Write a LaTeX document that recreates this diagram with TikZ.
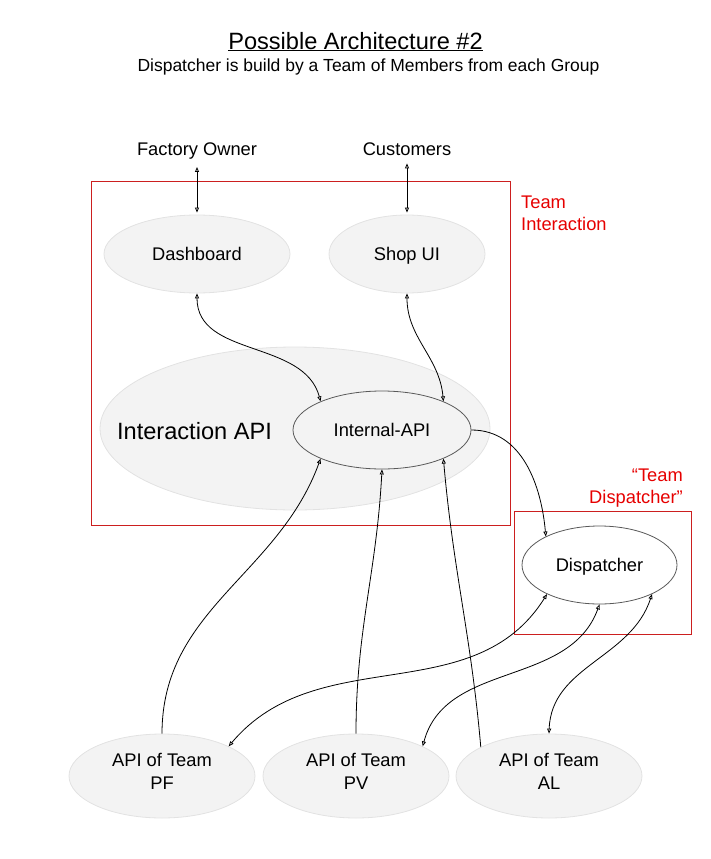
\documentclass[tikz,border=0pt]{standalone}
\usepackage{fontspec}
\setmainfont{Liberation Sans}
\usetikzlibrary{shapes.geometric,arrows.meta}
\definecolor{ellfill}{HTML}{F3F3F3}
\definecolor{ellline}{HTML}{E2E2E2}
\definecolor{darkline}{HTML}{595959}
\definecolor{teamred}{HTML}{CC1F1F}
\definecolor{labred}{HTML}{E60000}
\begin{document}
\begin{tikzpicture}[x=1pt,y=-1pt,
  lbl/.style={font=\fontsize{18.3}{22}\selectfont, inner sep=0pt},
  soft/.style={ellipse, fill=ellfill, draw=ellline, line width=0.8pt, inner sep=0pt, lbl, align=center},
  hard/.style={ellipse, fill=ellfill, draw=darkline, line width=0.8pt, inner sep=0pt, lbl, align=center},
  oneline/.style={text height=13.1pt, text depth=0pt},
  twoline/.style={font=\fontsize{18.3}{23}\selectfont, text depth=9pt},
  redbox/.style={draw=teamred, line width=0.9pt, inner sep=0pt},
  redlbl/.style={lbl, text=labred},
  conn/.style={line width=0.8pt, black},
  >={Triangle[open,length=5pt,width=4pt]}
]
\useasboundingbox (0,0) rectangle (711,859);

% titles
\node[font=\fontsize{23.6}{28}\selectfont, anchor=base, inner sep=0pt] (title) at (355.5,49) {\underline{Possible Architecture \#2}};
\node[font=\fontsize{17.5}{21}\selectfont, anchor=base, inner sep=0pt] (sub) at (368.5,71) {Dispatcher is build by a Team of Members from each Group};

% red boxes
\node[redbox, minimum width=419pt, minimum height=344pt] (tibox) at (300.5,353) {};
\node[redbox, minimum width=177pt, minimum height=123pt] (tdbox) at (602.5,572.5) {};
\node[redlbl, anchor=north west, align=left] (tilbl) at (521,196) {Team\\Interaction};
\node[redlbl, anchor=north east, align=right] (tdlbl) at (683,468.5) {“Team\\Dispatcher”};

% actors
\node[lbl, anchor=base] (fo) at (197,155) {Factory Owner};
\node[lbl, anchor=base] (cu) at (407,155) {Customers};

% ellipses
\node[soft, oneline, minimum width=186pt, minimum height=78pt] (dash) at (197,254) {Dashboard};
\node[soft, oneline, minimum width=156pt, minimum height=78pt] (shop) at (407,254) {Shop UI};
\node[soft, minimum width=390pt, minimum height=163pt] (iapi) at (295,428.5) {};
\node[lbl, font=\fontsize{23.6}{28}\selectfont] (iapitext) at (194.5,431) {Interaction API};
\node[hard, oneline, minimum width=178pt, minimum height=78pt] (int) at (382,430) {Internal-API};
\node[hard, oneline, fill=white, minimum width=155pt, minimum height=78pt] (disp) at (599.5,565) {Dispatcher};

\node[soft, twoline, minimum width=186pt, minimum height=84pt] (pf) at (162,776) {API of Team\\PF};
\node[soft, twoline, minimum width=186pt, minimum height=84pt] (pv) at (356,776) {API of Team\\PV};
\node[soft, twoline, minimum width=186pt, minimum height=84pt] (al) at (549,776) {API of Team\\AL};

% connectors
\draw[conn,<->, shorten <=8pt, shorten >=2pt] (fo.south) -- (fo.south |- dash.north);
\draw[conn,<->, shorten <=8pt, shorten >=2pt] (cu.south) -- (cu.south |- shop.north);
\draw[conn,<->] (dash.south) to[out=-90,in=105] (int.155);
\draw[conn,<->] (shop.south) to[out=-90,in=95] (int.25);
\draw[conn,->] (int.east) to[out=0,in=95] (disp.152);
\draw[conn,->] (pf.north) to[out=90,in=-110] (int.205);
\draw[conn,->] (pv.north) to[out=90,in=-93] (int.south);
\draw[conn,->] (al.157) to[out=95,in=-85] (int.335);
\draw[conn,<->] (pf.24) to[out=50,in=-122] (disp.209);
\draw[conn,<->] (pv.24) to[out=75,in=-110] (disp.south);
\draw[conn,<->] (al.north) to[out=88,in=-108] (disp.331);
\end{tikzpicture}
\end{document}
